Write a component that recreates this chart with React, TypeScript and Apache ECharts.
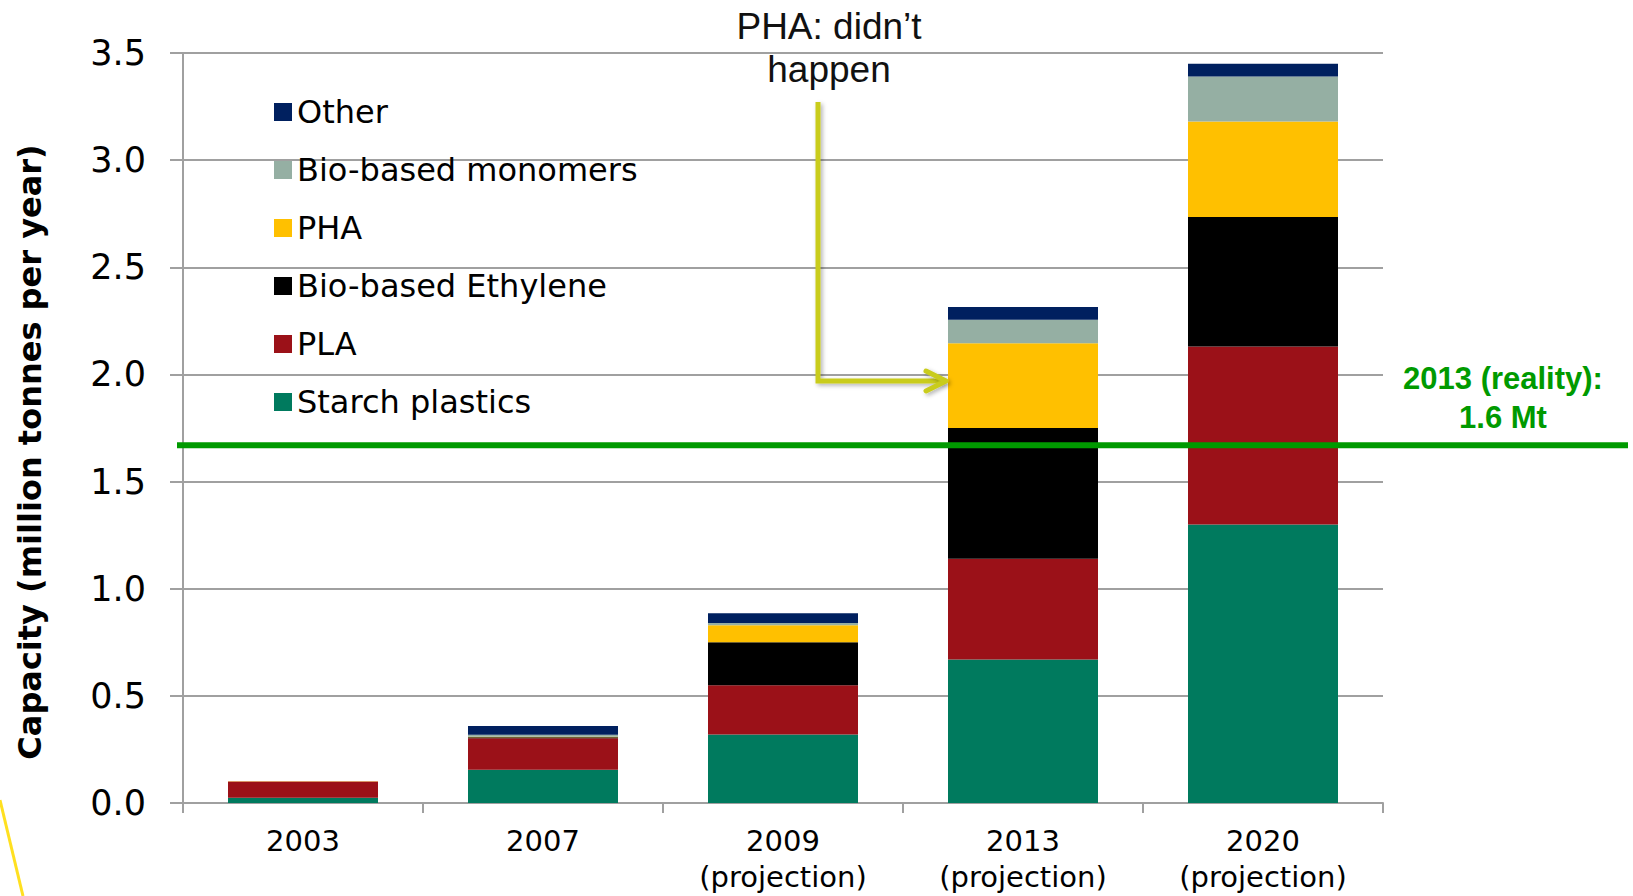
import React, { useEffect, useRef } from "react";
import * as echarts from "echarts";

const categories = ["2003", "2007", "2009\n(projection)", "2013\n(projection)", "2020\n(projection)"];
const starchPlastics = [0.025, 0.155, 0.32, 0.67, 1.3];
const pla = [0.075, 0.147, 0.23, 0.47, 0.83];
const bioEthylene = [0, 0.005, 0.2, 0.61, 0.605];
const pha = [0.002, 0.002, 0.08, 0.395, 0.445];
const bioMonomers = [0, 0.01, 0.01, 0.11, 0.21];
const other = [0, 0.04, 0.045, 0.06, 0.06];
const realityLevel = 1.67;
const yTicks = { min: 0, max: 3.5, interval: 0.5 };

const seriesDefs = [
  { name: "Starch plastics", data: starchPlastics, color: "#007A5E" },
  { name: "PLA", data: pla, color: "#9B1118" },
  { name: "Bio-based Ethylene", data: bioEthylene, color: "#000000" },
  { name: "PHA", data: pha, color: "#FFC000" },
  { name: "Bio-based monomers", data: bioMonomers, color: "#95AFA3" },
  { name: "Other", data: other, color: "#00205F" },
];
const legendOrder = ["Other", "Bio-based monomers", "PHA", "Bio-based Ethylene", "PLA", "Starch plastics"];

const GRID = "#A0A0A0";
const VERD = "DejaVu Sans, Verdana, sans-serif";
const ARIAL = "Liberation Sans, Arial, sans-serif";
const GREEN = "#009A00";
const ARROW = "#C9CC1B";

export default function App() {
  const ref = useRef<HTMLDivElement>(null);
  useEffect(() => {
    if (!ref.current) return;
    const chart = echarts.init(ref.current, null, { renderer: "svg" });
    chart.setOption({
      animation: false,
      backgroundColor: "#FFFFFF",
      grid: { left: 183, right: 250, top: 53, bottom: 93, containLabel: false },
      legend: {
        orient: "vertical",
        left: 274,
        top: 92,
        padding: 0,
        itemWidth: 18,
        itemHeight: 18,
        itemGap: 18,
        icon: "rect",
        data: legendOrder,
        textStyle: { fontFamily: VERD, fontSize: 32, lineHeight: 40, color: "#000" },
      },
      xAxis: {
        type: "category",
        data: categories,
        boundaryGap: true,
        axisLine: { show: true, lineStyle: { color: GRID, width: 2 } },
        axisTick: { show: true, length: 10, interval: 0, lineStyle: { color: GRID, width: 2 } },
        axisLabel: { fontFamily: VERD, fontSize: 29, lineHeight: 36, margin: 20, color: "#000", interval: 0 },
      },
      yAxis: {
        type: "value",
        min: yTicks.min,
        max: yTicks.max,
        interval: yTicks.interval,
        axisLine: { show: true, lineStyle: { color: GRID, width: 2 } },
        axisTick: { show: true, inside: false, length: 13, lineStyle: { color: GRID, width: 2 } },
        splitLine: { show: true, lineStyle: { color: GRID, width: 2 } },
        axisLabel: { fontFamily: VERD, fontSize: 35, margin: 37, color: "#000", formatter: (v: number) => v.toFixed(1) },
      },
      series: seriesDefs.map((s) => ({
        name: s.name,
        type: "bar",
        stack: "total",
        barWidth: 150,
        data: s.data,
        itemStyle: { color: s.color },
        emphasis: { disabled: true },
      })),
    });

    const yLine = chart.convertToPixel({ yAxisIndex: 0 }, realityLevel) as number;
    chart.setOption({
      graphic: [
        {
          type: "text",
          x: 30,
          y: 452,
          rotation: Math.PI / 2,
          z: 100,
          style: {
            text: "Capacity (million tonnes per year)",
            fontFamily: VERD,
            fontWeight: "bold",
            fontSize: 32,
            fill: "#000",
            align: "center",
            verticalAlign: "middle",
          },
        },
        {
          type: "line",
          z: 100,
          shape: { x1: 177, y1: yLine, x2: 1628, y2: yLine },
          style: { stroke: GREEN, lineWidth: 6 },
        },
        {
          type: "text",
          x: 1503,
          y: 378,
          z: 100,
          style: { text: "2013 (reality):", fontFamily: ARIAL, fontWeight: "bold", fontSize: 31, fill: GREEN, align: "center", verticalAlign: "middle" },
        },
        {
          type: "text",
          x: 1503,
          y: 417,
          z: 100,
          style: { text: "1.6 Mt", fontFamily: ARIAL, fontWeight: "bold", fontSize: 31, fill: GREEN, align: "center", verticalAlign: "middle" },
        },
        {
          type: "text",
          x: 829,
          y: 26,
          z: 100,
          style: { text: "PHA: didn’t", fontFamily: ARIAL, fontSize: 37, fill: "#111", align: "center", verticalAlign: "middle" },
        },
        {
          type: "text",
          x: 829,
          y: 69,
          z: 100,
          style: { text: "happen", fontFamily: ARIAL, fontSize: 37, fill: "#111", align: "center", verticalAlign: "middle" },
        },
        {
          type: "polyline",
          z: 100,
          shape: { points: [[818, 102], [818, 381], [944, 381]] },
          style: {
            stroke: ARROW, lineWidth: 5, fill: null, lineJoin: "miter",
            shadowColor: "rgba(0,0,0,0.3)", shadowBlur: 4, shadowOffsetX: 2, shadowOffsetY: 2,
          },
        },
        {
          type: "polyline",
          z: 100,
          shape: { points: [[926, 371], [946, 381], [926, 391]] },
          style: {
            stroke: ARROW, lineWidth: 5, fill: null, lineCap: "round", lineJoin: "round",
            shadowColor: "rgba(0,0,0,0.3)", shadowBlur: 4, shadowOffsetX: 2, shadowOffsetY: 2,
          },
        },
        {
          type: "line",
          z: 100,
          shape: { x1: 0, y1: 800, x2: 23, y2: 896 },
          style: { stroke: "#FFE020", lineWidth: 3 },
        },
      ],
    });
    return () => chart.dispose();
  }, []);
  return <div ref={ref} style={{ position: "fixed", left: 0, top: 0, width: 1633, height: 896 }} />;
}
